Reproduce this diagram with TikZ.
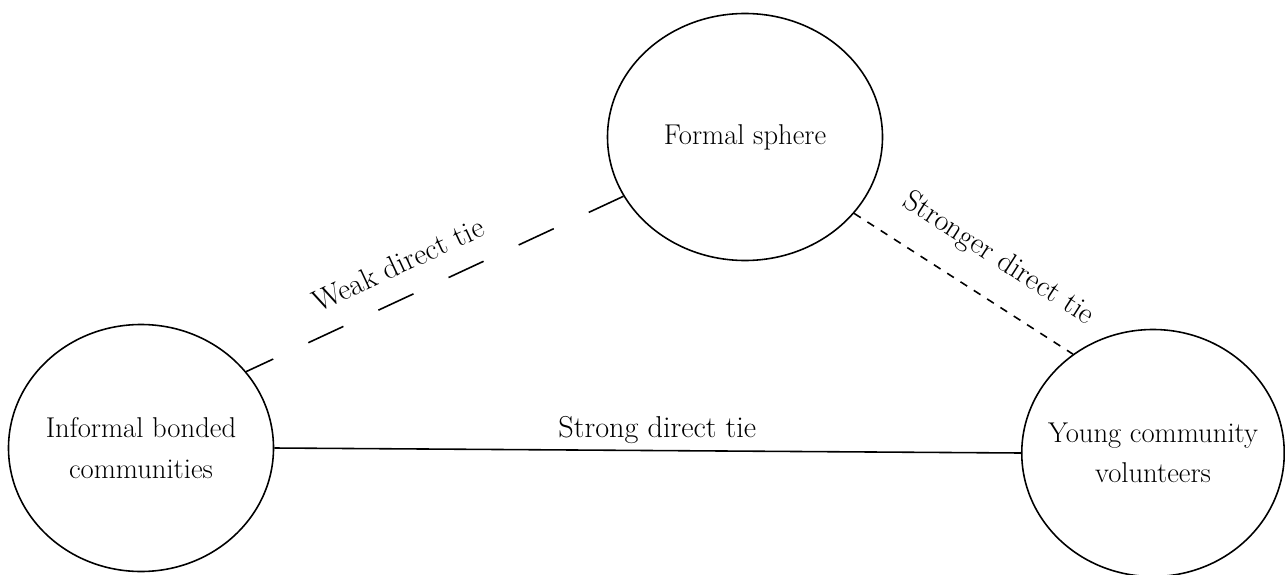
\documentclass[tikz,border=0pt]{standalone}
\usetikzlibrary{shapes.geometric}
\begin{document}
\begin{tikzpicture}[every node/.style={font=\fontsize{17.2}{22}\selectfont}, group/.style={ellipse, draw, line width=0.9pt, minimum width=5.3cm, minimum height=4.94cm, align=center, inner sep=-10pt, font=\fontsize{16.3}{23}\selectfont}, tie/.style={line width=0.9pt}, weak/.style={tie, dash pattern=on 22pt off 22pt, dash phase=5pt}, stronger/.style={tie, dash pattern=on 4.5pt off 4.5pt}]
	\useasboundingbox (0,0) rectangle (25.7,11.48);
	\node[group] (informal) at (2.82, 2.52) {Informal bonded\\communities};
	\node[group, minimum width=5.5cm] (formal) at (14.9, 8.74) {Formal sphere};
	\node[group, minimum width=5.25cm] (young) at (23.06, 2.42) {Young community\\volunteers};
	\draw[tie] (informal.east) -- node[pos=0.513, above=0pt] {Strong direct tie} (young.west);
	\draw[weak] (informal.36) -- node[pos=0.44, sloped, above=9pt] {Weak direct tie} (formal.206);
	\draw[stronger] (formal.-35) -- node[pos=0.56, sloped, above=11pt] {Stronger direct tie} (young.129);
\end{tikzpicture}
\end{document}
